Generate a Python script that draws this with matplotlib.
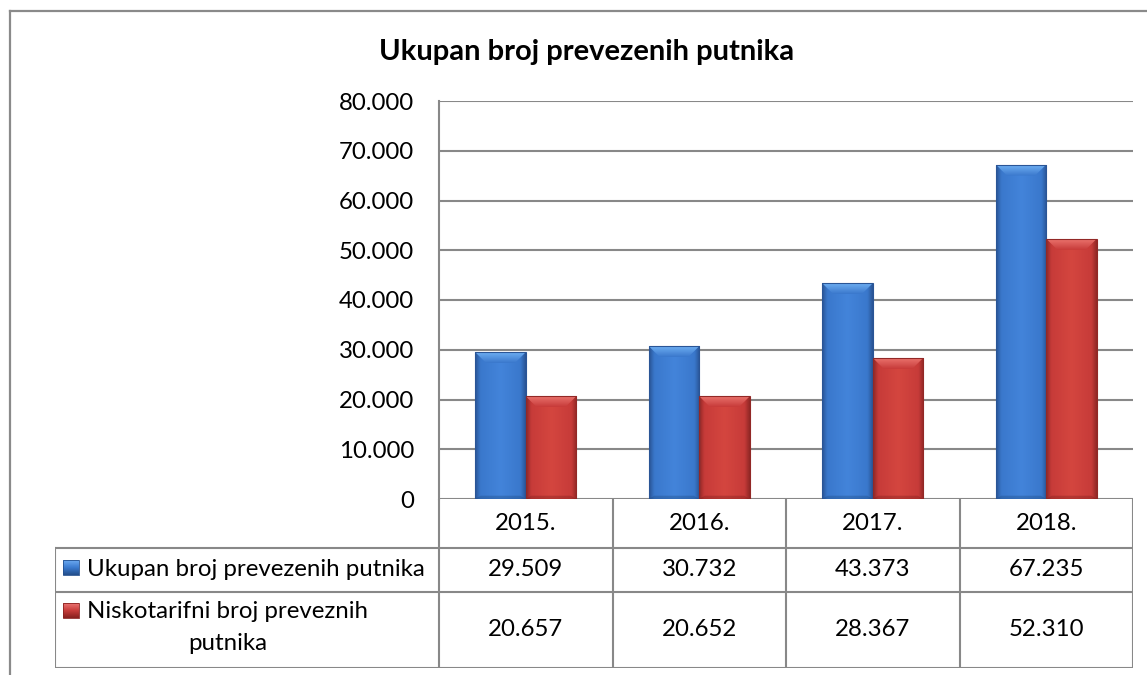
import numpy as np
import matplotlib
matplotlib.use('Agg')
import matplotlib.pyplot as plt
from matplotlib.patches import Polygon, Rectangle
from matplotlib.colors import LinearSegmentedColormap
from matplotlib.ticker import FuncFormatter, MultipleLocator
from matplotlib.lines import Line2D

plt.rcParams['font.family'] = ['Lato', 'DejaVu Sans']

# data
years = ['2015.', '2016.', '2017.', '2018.']
ukupan = [29509, 30732, 43373, 67235]
nisko = [20657, 20652, 28367, 52310]
label_ukupan = 'Ukupan broj prevezenih putnika'
label_nisko = ['Niskotarifni broj preveznih', 'putnika']
title = 'Ukupan broj prevezenih putnika'

W, H = 1147, 675
grid_c = '#888888'
fs = 17.3

def fx(px):
    return px / W

def fy(py):
    return 1 - py / H

def dotted(v):
    return f'{int(round(v)):,}'.replace(',', '.')

fig = plt.figure(figsize=(W / 100, H / 100), dpi=100)

# plot area
L, R, T, B = 439, 1133, 101, 499
ax = fig.add_axes([fx(L), fy(B), fx(R - L), (B - T) / H])
ax.set_xlim(-0.5, 3.5)
ax.set_ylim(0, 80000)
ax.yaxis.set_major_locator(MultipleLocator(10000))
ax.yaxis.set_major_formatter(FuncFormatter(lambda v, p: dotted(v)))
ax.tick_params(axis='y', length=0, pad=18, labelsize=fs)
ax.tick_params(axis='x', length=0, labelbottom=False)
ax.grid(axis='y', color=grid_c, linewidth=1.5)
ax.set_axisbelow(True)
for s in ['top', 'right', 'bottom']:
    ax.spines[s].set_visible(False)
ax.spines['left'].set_color(grid_c)
ax.spines['left'].set_linewidth(1.5)

px_x = (R - L) / 4.0       # pixels per category unit
px_y = (B - T) / 80000.0   # pixels per value unit

bw = 0.291
x = np.arange(len(years))

def shade(bar, dark, base, light, top, bottom):
    x0 = bar.get_x()
    w = bar.get_width()
    h = bar.get_height()
    x1 = x0 + w
    cmap = LinearSegmentedColormap.from_list('g', [(0, dark), (0.1, base), (0.5, light), (0.9, base), (1, dark)])
    grad = np.linspace(0, 1, 64).reshape(1, -1)
    im = ax.imshow(grad, cmap=cmap, extent=[x0, x1, 0, h], aspect='auto', zorder=2, interpolation='bicubic')
    im.set_clip_path(bar)
    dx = 11 / px_x
    dy = 11 / px_y
    tcm = LinearSegmentedColormap.from_list('t', [base, top])
    tg = np.linspace(0, 1, 32).reshape(-1, 1)
    poly = Polygon([(x0, h), (x1, h), (x1 - dx, h - dy), (x0 + dx, h - dy)],
                   closed=True, facecolor='none', edgecolor='none', zorder=3)
    ax.add_patch(poly)
    tim = ax.imshow(tg, cmap=tcm, extent=[x0, x1, h - dy, h], origin='lower', aspect='auto', zorder=3)
    tim.set_clip_path(poly)
    ax.add_patch(Polygon([(x0, 0), (x1, 0), (x1 - dx * 0.5, dy * 0.3), (x0 + dx * 0.5, dy * 0.3)],
                         closed=True, facecolor=bottom, edgecolor='none', zorder=3, alpha=0.35))
    ax.add_patch(Rectangle((x0, 0), w, h, facecolor='none', edgecolor=dark, linewidth=0.8, zorder=4))
    ax.set_xlim(-0.5, 3.5)
    ax.set_ylim(0, 80000)

bars1 = ax.bar(x - bw / 2, ukupan, bw, color='#3d7dd2', zorder=2, linewidth=0)
bars2 = ax.bar(x + bw / 2, nisko, bw, color='#cf3f3d', zorder=2, linewidth=0)
for b in bars1:
    shade(b, '#2a5596', '#3a78cc', '#4384da', '#6eaef2', '#1f4a80')
for b in bars2:
    shade(b, '#922826', '#c73b39', '#d4463f', '#ea726d', '#7a1e1c')

# data table
TB = 668
tax = fig.add_axes([fx(55), fy(TB), fx(R - 55), (TB - B) / H])
left_u = -0.5 - (L - 55) / px_x
tax.set_xlim(left_u, 3.5)
tax.set_ylim(TB - B, 0)
tax.axis('off')

def tx(px):
    return -0.5 + (px - L) / px_x

lk = dict(color=grid_c, linewidth=1.5, solid_capstyle='projecting')
for xv in np.arange(-0.5, 4.0, 1.0):
    tax.plot([xv, xv], [0, TB - B], **lk)
tax.plot([left_u, left_u], [49, TB - B], **lk)
for yv in [49, 93, TB - B]:
    tax.plot([left_u, 3.5], [yv, yv], **lk)

for i, yr in enumerate(years):
    tax.text(x[i], 24, yr, ha='center', va='center', fontsize=fs)
    tax.text(x[i], 71, dotted(ukupan[i]), ha='center', va='center', fontsize=fs)
    tax.text(x[i], 131, dotted(nisko[i]), ha='center', va='center', fontsize=fs)

def key(y0, dark, base, light):
    cmap = LinearSegmentedColormap.from_list('k', [light, base, dark])
    g = np.linspace(0, 1, 16).reshape(-1, 1)
    tax.imshow(g, cmap=cmap, extent=[tx(63), tx(79), y0 + 15, y0], aspect='auto', zorder=3)
    tax.add_patch(Rectangle((tx(63), y0), tx(79) - tx(63), 15, facecolor='none', edgecolor=dark, linewidth=0.6, zorder=4))

key(61, '#24508e', '#3b7bd0', '#6aa8ef')
key(104, '#8a2220', '#c83c3a', '#e97270')
tax.set_xlim(left_u, 3.5)
tax.set_ylim(TB - B, 0)

tax.text(tx(87), 70, label_ukupan, ha='left', va='center', fontsize=fs)
tax.text(tx(87), 113, label_nisko[0], ha='left', va='center', fontsize=fs)
tax.text(tx(228), 145, label_nisko[1], ha='center', va='center', fontsize=fs)

# title
fig.text(fx(587), fy(52), title, ha='center', va='center', fontsize=21, fontweight='bold')

# outer border
fig.add_artist(Line2D([fx(9.5), fx(9.5)], [fy(11), 0], color='#8a8a8a', linewidth=1.6, transform=fig.transFigure))
fig.add_artist(Line2D([fx(9.5), 1], [fy(11), fy(11)], color='#8a8a8a', linewidth=1.6, transform=fig.transFigure))

fig.savefig('out.png', dpi=100)
